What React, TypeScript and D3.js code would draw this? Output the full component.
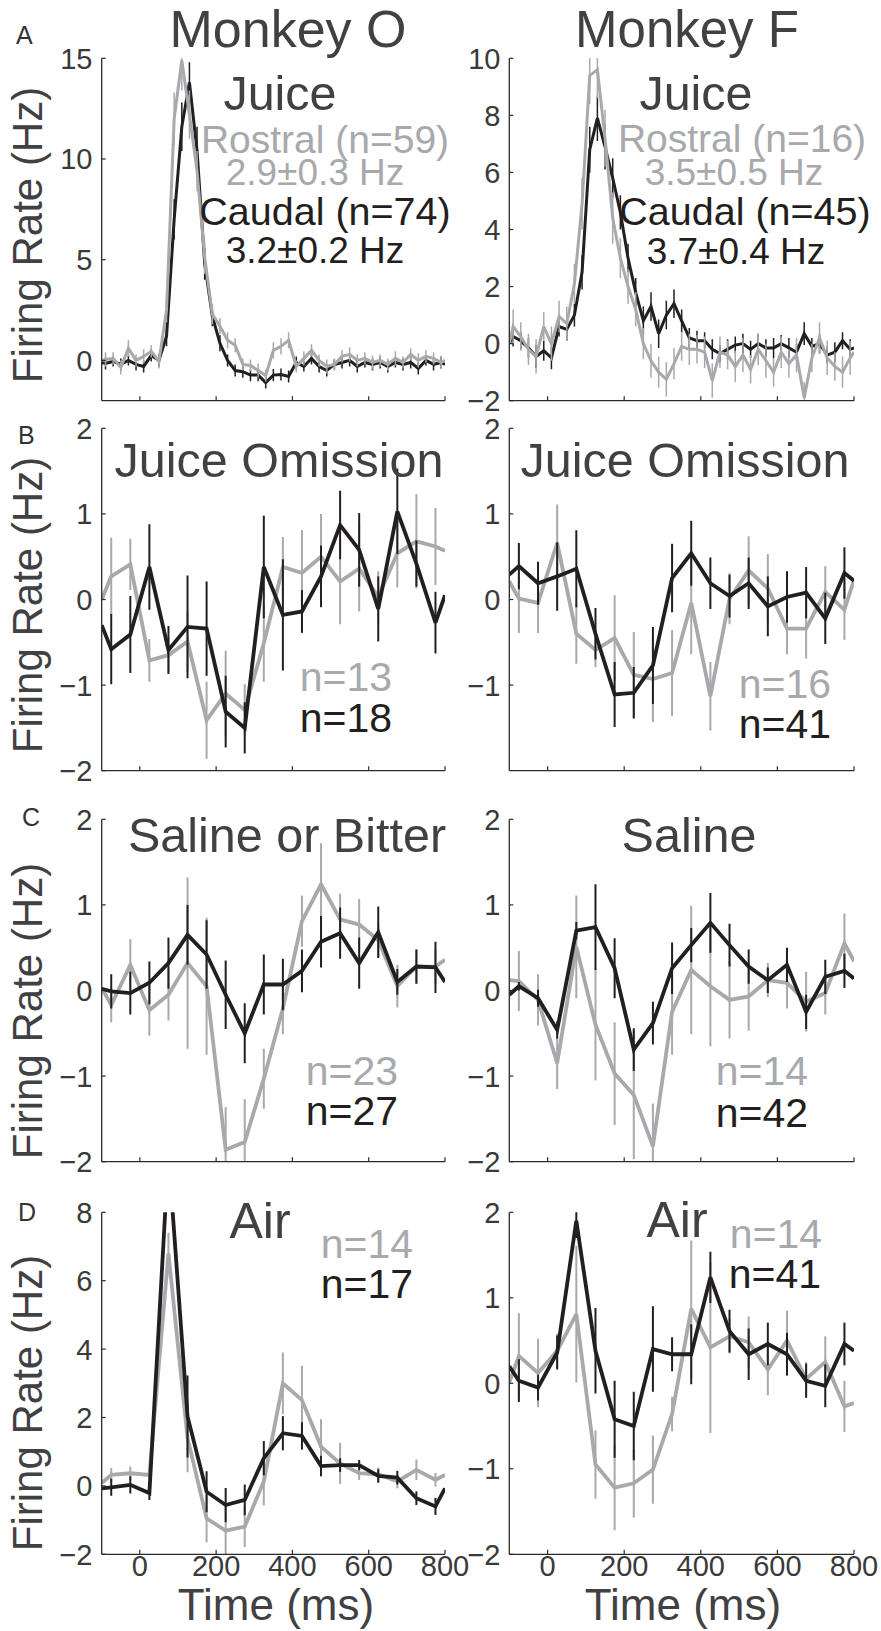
import React from 'react';
import * as d3 from 'd3';

// ---- time bases (ms) ----
const T_FINE = [-100, -90, -70, -50, -30, -10, 10, 30, 50, 70, 90, 110, 130, 150, 170, 190, 210, 230, 250, 270, 290, 310, 330, 350, 370, 390, 410, 430, 450, 470, 490, 510, 530, 550, 570, 590, 610, 630, 650, 670, 690, 710, 730, 750, 770, 790, 800];
const T_COARSE = [-100, -75, -25, 25, 75, 125, 175, 225, 275, 325, 375, 425, 475, 525, 575, 625, 675, 725, 775, 800];
const X_DOMAIN = [-100, 800];
const X_TICKS = [0, 200, 400, 600, 800];

// ---- A: Juice ----
const juiceO_caudal = [-0.1, -0.15, -0.05, -0.2, 0.0, -0.2, -0.3, 0.25, 0.0, 1.2, 7.0, 11.6, 13.8, 10.4, 4.8, 2.2, 0.85, 0.0, -0.5, -0.56, -0.73, -0.73, -1.1, -0.73, -0.7, -0.8, -0.1, -0.3, 0.1, -0.3, -0.5, -0.2, -0.1, 0.0, -0.3, -0.1, -0.2, -0.1, -0.3, -0.1, -0.2, -0.1, -0.4, 0.0, -0.2, -0.1, -0.2];
const juiceO_caudalErr = [null, 0.3, 0.25, 0.3, 0.25, 0.3, 0.3, 0.3, 0.3, 0.5, 1.0, 1.2, 1.0, 1.2, 0.8, 0.5, 0.4, 0.3, 0.3, 0.3, 0.3, 0.3, 0.3, 0.3, 0.3, 0.3, 0.3, 0.25, 0.3, 0.3, 0.3, 0.25, 0.3, 0.3, 0.3, 0.25, 0.3, 0.3, 0.3, 0.25, 0.3, 0.3, 0.3, 0.25, 0.3, 0.3, null];
const juiceO_rostral = [0.0, 0.05, 0.1, -0.35, 0.6, 0.0, 0.2, 0.45, -0.05, 2.5, 12.0, 14.9, 12.2, 9.4, 5.1, 2.3, 1.7, 1.0, 0.75, -0.2, -0.25, -0.5, -0.75, 0.5, 0.7, 1.0, -0.3, 0.1, 0.5, 0.0, -0.3, -0.2, 0.2, 0.3, 0.0, 0.1, -0.1, 0.0, -0.2, 0.1, -0.1, 0.3, 0.0, 0.2, 0.1, -0.1, 0.0];
const juiceO_rostralErr = [null, 0.35, 0.3, 0.35, 0.4, 0.3, 0.35, 0.3, 0.35, 0.6, 1.3, 1.5, 1.2, 1.0, 0.8, 0.5, 0.4, 0.4, 0.35, 0.3, 0.3, 0.35, 0.3, 0.4, 0.4, 0.4, 0.3, 0.35, 0.3, 0.3, 0.35, 0.3, 0.3, 0.35, 0.3, 0.3, 0.35, 0.3, 0.3, 0.35, 0.3, 0.3, 0.35, 0.3, 0.3, 0.3, null];

const juiceF_caudal = [0.0, 0.25, 0.1, -0.15, -0.45, -0.25, -0.5, 0.6, 0.5, 1.0, 2.5, 6.8, 7.9, 6.9, 5.8, 4.6, 3.0, 1.8, 0.8, 1.3, 0.35, 1.0, 1.4, 0.8, 0.2, 0.1, 0.1, -0.2, -0.35, -0.2, -0.05, 0.0, -0.2, 0.0, -0.15, -0.15, 0.0, -0.15, -0.3, 0.35, -0.1, 0.0, -0.4, -0.3, 0.1, -0.2, -0.15];
const juiceF_caudalErr = [null, 0.35, 0.3, 0.35, 0.4, 0.35, 0.4, 0.35, 0.4, 0.4, 0.6, 0.8, 0.8, 0.8, 0.7, 0.6, 0.5, 0.5, 0.5, 0.5, 0.5, 0.5, 0.5, 0.4, 0.35, 0.35, 0.3, 0.35, 0.3, 0.35, 0.3, 0.35, 0.3, 0.35, 0.3, 0.35, 0.3, 0.35, 0.3, 0.4, 0.3, 0.35, 0.3, 0.35, 0.3, 0.35, null];
const juiceF_rostral = [0.0, 0.6, 0.25, -0.2, -0.45, 0.6, 0.0, 0.95, 0.7, 2.1, 4.9, 9.4, 9.6, 7.2, 4.4, 3.0, 2.0, 1.2, 0.0, -0.6, -1.0, -1.25, -0.7, -0.1, -0.2, -0.2, -0.3, -1.3, -0.3, -0.4, -0.8, -0.4, -0.9, -0.2, -0.6, -1.0, -0.3, -0.7, -0.4, -1.9, -0.5, 0.2, -0.5, -0.8, -1.0, -0.5, -0.3];
const juiceF_rostralErr = [null, 0.6, 0.5, 0.55, 0.6, 0.5, 0.6, 0.55, 0.6, 0.7, 0.9, 1.0, 1.0, 1.0, 0.9, 0.7, 0.6, 0.6, 0.55, 0.6, 0.55, 0.6, 0.55, 0.5, 0.55, 0.5, 0.55, 0.6, 0.55, 0.5, 0.55, 0.6, 0.5, 0.55, 0.6, 0.5, 0.55, 0.5, 0.6, 0.55, 0.5, 0.55, 0.6, 0.5, 0.55, 0.6, null];

// ---- B: Juice omission ----
const omitO_caudal = [-0.30, -0.58, -0.41, 0.38, -0.59, -0.32, -0.34, -1.31, -1.50, 0.38, -0.18, -0.14, 0.27, 0.87, 0.58, -0.11, 1.03, 0.42, -0.27, 0.05];
const omitO_caudalErr = [null, 0.41, 0.45, 0.5, 0.28, 0.6, 0.55, 0.42, 0.3, 0.6, 0.65, 0.25, 0.36, 0.4, 0.43, 0.38, 0.5, 0.27, 0.36, null];
const omitO_rostral = [0.0, 0.27, 0.41, -0.71, -0.65, -0.49, -1.41, -1.10, -1.29, -0.51, 0.38, 0.31, 0.50, 0.21, 0.36, 0.03, 0.54, 0.68, 0.62, 0.57];
const omitO_rostralErr = [null, 0.45, 0.3, 0.25, 0.2, 0.35, 0.45, 0.5, 0.3, 0.45, 0.35, 0.5, 0.5, 0.5, 0.5, 0.3, 0.4, 0.55, 0.45, null];

const omitF_caudal = [0.29, 0.39, 0.19, 0.27, 0.36, -0.40, -1.11, -1.09, -0.77, 0.25, 0.54, 0.19, 0.04, 0.19, -0.08, 0.03, 0.08, -0.22, 0.31, 0.22];
const omitF_caudalErr = [null, 0.27, 0.25, 0.4, 0.45, 0.3, 0.38, 0.3, 0.45, 0.4, 0.38, 0.3, 0.25, 0.3, 0.35, 0.3, 0.3, 0.3, 0.3, null];
const omitF_rostral = [0.21, 0.01, -0.04, 0.66, -0.40, -0.59, -0.45, -0.88, -0.93, -0.86, -0.04, -1.13, 0.01, 0.34, 0.13, -0.34, -0.34, 0.09, -0.12, 0.23];
const omitF_rostralErr = [null, 0.4, 0.35, 0.45, 0.35, 0.2, 0.5, 0.5, 0.5, 0.5, 0.6, 0.4, 0.3, 0.4, 0.4, 0.3, 0.35, 0.3, 0.35, null];

// ---- C: Saline / bitter ----
const salineO_caudal = [0.02, -0.01, -0.03, 0.09, 0.32, 0.65, 0.42, -0.05, -0.50, 0.07, 0.07, 0.23, 0.57, 0.67, 0.32, 0.68, 0.10, 0.28, 0.27, 0.10];
const salineO_caudalErr = [null, 0.2, 0.25, 0.25, 0.3, 0.35, 0.4, 0.4, 0.35, 0.35, 0.3, 0.25, 0.3, 0.3, 0.3, 0.3, 0.15, 0.2, 0.3, null];
const salineO_rostral = [0.03, -0.17, 0.30, -0.23, -0.05, 0.32, 0.05, -1.86, -1.77, -1.03, -0.21, 0.81, 1.24, 0.83, 0.77, 0.59, 0.05, 0.28, 0.28, 0.36];
const salineO_rostralErr = [null, 0.2, 0.3, 0.3, 0.3, 1.0, 0.8, 0.5, 0.5, 0.35, 0.3, 0.3, 0.48, 0.3, 0.3, 0.2, 0.25, 0.2, 0.2, null];

const salineF_caudal = [-0.05, 0.05, -0.09, -0.46, 0.70, 0.74, 0.26, -0.69, -0.38, 0.26, 0.53, 0.79, 0.53, 0.28, 0.12, 0.30, -0.25, 0.16, 0.23, 0.14];
const salineF_caudalErr = [null, 0.05, 0.1, 0.1, 0.1, 0.5, 0.35, 0.25, 0.25, 0.3, 0.2, 0.35, 0.25, 0.2, 0.15, 0.2, 0.2, 0.2, 0.2, null];
const salineF_rostral = [0.12, 0.11, -0.11, -0.85, 0.51, -0.40, -0.97, -1.22, -1.82, -0.25, 0.24, 0.05, -0.11, -0.07, 0.12, 0.09, -0.13, -0.03, 0.55, 0.34];
const salineF_rostralErr = [null, 0.35, 0.3, 0.3, 0.6, 0.65, 0.6, 0.75, 0.5, 0.5, 0.75, 0.7, 0.45, 0.4, 0.2, 0.3, 0.35, 0.25, 0.35, null];

// ---- D: Air puff ----
const airO_caudal = [-0.07, -0.04, 0.03, -0.21, 9.7, 2.03, -0.17, -0.56, -0.41, 0.81, 1.54, 1.46, 0.58, 0.61, 0.61, 0.29, 0.24, -0.36, -0.60, -0.07];
const airO_caudalErr = [null, 0.25, 0.25, 0.2, 1.0, 1.2, 0.6, 0.5, 0.45, 0.5, 0.5, 0.4, 0.3, 0.2, 0.15, 0.2, 0.2, 0.2, 0.25, null];
const airO_rostral = [0.08, 0.32, 0.37, 0.32, 6.8, 1.4, -0.95, -1.31, -1.19, 0.13, 3.00, 2.51, 1.15, 0.66, 0.37, 0.34, 0.13, 0.47, 0.18, 0.32];
const airO_rostralErr = [null, 0.2, 0.2, 0.1, 0.6, 1.0, 0.7, 0.7, 0.6, 0.7, 0.9, 1.0, 0.8, 0.6, 0.2, 0.2, 0.2, 0.3, 0.2, null];

const airF_caudal = [0.20, 0.03, -0.05, 0.36, 1.90, 0.38, -0.42, -0.50, 0.40, 0.34, 0.34, 1.24, 0.61, 0.34, 0.46, 0.34, 0.03, -0.03, 0.46, 0.38];
const airF_caudalErr = [null, 0.25, 0.15, 0.2, 0.2, 0.5, 0.45, 0.4, 0.5, 0.2, 0.35, 0.3, 0.25, 0.3, 0.25, 0.25, 0.2, 0.25, 0.25, null];
const airF_rostral = [0.01, 0.32, 0.12, 0.38, 0.81, -0.95, -1.22, -1.17, -1.01, -0.36, 0.87, 0.42, 0.55, 0.48, 0.16, 0.50, 0.05, 0.25, -0.27, -0.23];
const airF_rostralErr = [null, 0.5, 0.4, 0.2, 0.8, 0.4, 0.5, 0.4, 0.4, 0.2, 0.8, 1.0, 0.2, 0.3, 0.3, 0.35, 0.2, 0.3, 0.3, null];

// ---- tick labels ----
const TICKS_A_O = [0, 5, 10, 15];
const TICKS_A_F = [-2, 0, 2, 4, 6, 8, 10];
const TICKS_UNIT = [-2, -1, 0, 1, 2];
const TICKS_UNIT_NO_MIN = [-1, 0, 1, 2];
const TICKS_AIR_O = [-2, 0, 2, 4, 6, 8];

// ---- styling ----
const FONT = '"Liberation Sans", Arial, Helvetica, sans-serif';
const CAUDAL = '#231f20';
const ROSTRAL = '#a7a9ac';
const INK = '#414042';
const AXIS = '#2b2b2b';
const TICK_FONT = 29;

const COLS = [
  { x0: 101.7, x1: 445, tickLabelX: 92.5 },
  { x0: 509.3, x1: 854, tickLabelX: 500.5 },
];
const ROWS = [
  { top: 58.3, bottom: 400.7, letter: 'A', letterX: 16, letterY: 44, yLabelY: 235 },
  { top: 428.3, bottom: 770.7, letter: 'B', letterX: 18, letterY: 444, yLabelY: 605 },
  { top: 819.3, bottom: 1161.7, letter: 'C', letterX: 22, letterY: 826, yLabelY: 1011 },
  { top: 1212.3, bottom: 1554.3, letter: 'D', letterX: 18, letterY: 1221, yLabelY: 1403 },
];

type Note = { text: string; x: number; y: number; size: number; color: string };
type Series = { v: number[]; err: (number | null)[]; color: string };
type PanelDef = {
  id: string; row: number; col: number; t: number[];
  yDomain: [number, number]; yTicks: number[];
  caudal: Series; rostral: Series; rostralOnTop: boolean;
  lineW: number; barW: number; notes: Note[];
};

const H1 = 48.5;
const LEG = 39;
const N = 41;

const panels: PanelDef[] = [
  {
    id: 'aO', row: 0, col: 0, t: T_FINE, yDomain: [-2, 15], yTicks: TICKS_A_O,
    caudal: { v: juiceO_caudal, err: juiceO_caudalErr, color: CAUDAL },
    rostral: { v: juiceO_rostral, err: juiceO_rostralErr, color: ROSTRAL },
    rostralOnTop: true, lineW: 3, barW: 1.5,
    notes: [
      { text: 'Juice', x: 280, y: 110, size: H1, color: INK },
      { text: 'Rostral (n=59)', x: 325, y: 153, size: LEG, color: ROSTRAL },
      { text: '2.9±0.3 Hz', x: 315, y: 185, size: 37, color: ROSTRAL },
      { text: 'Caudal (n=74)', x: 325, y: 225, size: 39.5, color: CAUDAL },
      { text: '3.2±0.2 Hz', x: 315, y: 263, size: 37, color: CAUDAL },
    ],
  },
  {
    id: 'aF', row: 0, col: 1, t: T_FINE, yDomain: [-2, 10], yTicks: TICKS_A_F,
    caudal: { v: juiceF_caudal, err: juiceF_caudalErr, color: CAUDAL },
    rostral: { v: juiceF_rostral, err: juiceF_rostralErr, color: ROSTRAL },
    rostralOnTop: true, lineW: 3, barW: 1.5,
    notes: [
      { text: 'Juice', x: 696, y: 110, size: H1, color: INK },
      { text: 'Rostral (n=16)', x: 742, y: 152, size: LEG, color: ROSTRAL },
      { text: '3.5±0.5 Hz', x: 734, y: 185, size: 37, color: ROSTRAL },
      { text: 'Caudal (n=45)', x: 745, y: 225, size: 39.5, color: CAUDAL },
      { text: '3.7±0.4 Hz', x: 736, y: 264, size: 37, color: CAUDAL },
    ],
  },
  {
    id: 'bO', row: 1, col: 0, t: T_COARSE, yDomain: [-2, 2], yTicks: TICKS_UNIT,
    caudal: { v: omitO_caudal, err: omitO_caudalErr, color: CAUDAL },
    rostral: { v: omitO_rostral, err: omitO_rostralErr, color: ROSTRAL },
    rostralOnTop: false, lineW: 3.8, barW: 2,
    notes: [
      { text: 'Juice Omission', x: 279, y: 477, size: H1, color: INK },
      { text: 'n=13', x: 346, y: 691, size: N, color: ROSTRAL },
      { text: 'n=18', x: 346, y: 732, size: N, color: CAUDAL },
    ],
  },
  {
    id: 'bF', row: 1, col: 1, t: T_COARSE, yDomain: [-2, 2], yTicks: TICKS_UNIT_NO_MIN,
    caudal: { v: omitF_caudal, err: omitF_caudalErr, color: CAUDAL },
    rostral: { v: omitF_rostral, err: omitF_rostralErr, color: ROSTRAL },
    rostralOnTop: false, lineW: 3.8, barW: 2,
    notes: [
      { text: 'Juice Omission', x: 685, y: 477, size: H1, color: INK },
      { text: 'n=16', x: 785, y: 698, size: N, color: ROSTRAL },
      { text: 'n=41', x: 785, y: 738, size: N, color: CAUDAL },
    ],
  },
  {
    id: 'cO', row: 2, col: 0, t: T_COARSE, yDomain: [-2, 2], yTicks: TICKS_UNIT,
    caudal: { v: salineO_caudal, err: salineO_caudalErr, color: CAUDAL },
    rostral: { v: salineO_rostral, err: salineO_rostralErr, color: ROSTRAL },
    rostralOnTop: false, lineW: 3.8, barW: 2,
    notes: [
      { text: 'Saline or Bitter', x: 287, y: 852, size: H1, color: INK },
      { text: 'n=23', x: 352, y: 1085, size: N, color: ROSTRAL },
      { text: 'n=27', x: 352, y: 1125, size: N, color: CAUDAL },
    ],
  },
  {
    id: 'cF', row: 2, col: 1, t: T_COARSE, yDomain: [-2, 2], yTicks: TICKS_UNIT,
    caudal: { v: salineF_caudal, err: salineF_caudalErr, color: CAUDAL },
    rostral: { v: salineF_rostral, err: salineF_rostralErr, color: ROSTRAL },
    rostralOnTop: false, lineW: 3.8, barW: 2,
    notes: [
      { text: 'Saline', x: 689, y: 852, size: H1, color: INK },
      { text: 'n=14', x: 762, y: 1085, size: N, color: ROSTRAL },
      { text: 'n=42', x: 762, y: 1127, size: N, color: CAUDAL },
    ],
  },
  {
    id: 'dO', row: 3, col: 0, t: T_COARSE, yDomain: [-2, 8], yTicks: TICKS_AIR_O,
    caudal: { v: airO_caudal, err: airO_caudalErr, color: CAUDAL },
    rostral: { v: airO_rostral, err: airO_rostralErr, color: ROSTRAL },
    rostralOnTop: false, lineW: 3.8, barW: 2,
    notes: [
      { text: 'Air', x: 260, y: 1238, size: 50, color: INK },
      { text: 'n=14', x: 367, y: 1258, size: N, color: ROSTRAL },
      { text: 'n=17', x: 367, y: 1298, size: N, color: CAUDAL },
    ],
  },
  {
    id: 'dF', row: 3, col: 1, t: T_COARSE, yDomain: [-2, 2], yTicks: TICKS_UNIT,
    caudal: { v: airF_caudal, err: airF_caudalErr, color: CAUDAL },
    rostral: { v: airF_rostral, err: airF_rostralErr, color: ROSTRAL },
    rostralOnTop: false, lineW: 3.8, barW: 2,
    notes: [
      { text: 'Air', x: 677, y: 1237, size: 50, color: INK },
      { text: 'n=14', x: 776, y: 1248, size: N, color: ROSTRAL },
      { text: 'n=41', x: 775, y: 1288, size: N, color: CAUDAL },
    ],
  },
];

const MONKEYS = [
  { text: 'Monkey O', x: 288, y: 47, size: 52 },
  { text: 'Monkey F', x: 687, y: 47, size: 51 },
];
const TIME_LABEL_X = [276, 683];

function Panel({ p }: { p: PanelDef }) {
  const col = COLS[p.col];
  const row = ROWS[p.row];
  const x = d3.scaleLinear().domain(X_DOMAIN).range([col.x0, col.x1]);
  const y = d3.scaleLinear().domain(p.yDomain).range([row.bottom, row.top]);
  const line = d3
    .line<[number, number]>()
    .x((d) => x(d[0]))
    .y((d) => y(d[1]));
  const clipId = `clip-${p.id}`;

  const drawSeries = (s: Series, key: string) => (
    <g key={key}>
      {s.err.map((e, i) =>
        e == null ? null : (
          <line
            key={i}
            x1={x(p.t[i])}
            x2={x(p.t[i])}
            y1={y(s.v[i] - e)}
            y2={y(s.v[i] + e)}
            stroke={s.color}
            strokeWidth={p.barW}
          />
        )
      )}
      <path
        d={line(p.t.map((t, i) => [t, s.v[i]] as [number, number])) || ''}
        fill="none"
        stroke={s.color}
        strokeWidth={p.lineW}
        strokeLinejoin="miter"
        strokeMiterlimit={3}
      />
    </g>
  );

  const order = p.rostralOnTop
    ? [drawSeries(p.caudal, 'c'), drawSeries(p.rostral, 'r')]
    : [drawSeries(p.rostral, 'r'), drawSeries(p.caudal, 'c')];

  return (
    <g>
      <defs>
        <clipPath id={clipId}>
          <rect x={col.x0} y={row.top} width={col.x1 - col.x0} height={row.bottom - row.top} />
        </clipPath>
      </defs>
      <g clipPath={`url(#${clipId})`}>{order}</g>

      {/* axes */}
      <line x1={col.x0} x2={col.x0} y1={row.top} y2={row.bottom} stroke={AXIS} strokeWidth={1.3} />
      <line x1={col.x0} x2={col.x1} y1={row.bottom} y2={row.bottom} stroke={AXIS} strokeWidth={1.3} />
      {X_TICKS.map((t) => (
        <line key={t} x1={x(t)} x2={x(t)} y1={row.bottom} y2={row.bottom - 4.5} stroke={AXIS} strokeWidth={1.2} />
      ))}
      {p.yTicks.map((v) => (
        <g key={v}>
          <line x1={col.x0} x2={col.x0 + 4} y1={y(v)} y2={y(v)} stroke={AXIS} strokeWidth={1.2} />
          <text
            x={col.tickLabelX}
            y={y(v)}
            dy="0.36em"
            textAnchor="end"
            fontSize={TICK_FONT}
            fill="#3a3a3a"
          >
            {v < 0 ? `\u2212${Math.abs(v)}` : `${v}`}
          </text>
        </g>
      ))}
      {p.row === 3 &&
        X_TICKS.map((t) => (
          <text key={t} x={x(t)} y={row.bottom + 22} textAnchor="middle" fontSize={TICK_FONT} fill="#3a3a3a">
            {t}
          </text>
        ))}

      {p.notes.map((n, i) => (
        <text key={i} x={n.x} y={n.y} textAnchor="middle" fontSize={n.size} fill={n.color}>
          {n.text}
        </text>
      ))}
    </g>
  );
}

export default function App() {
  return (
    <>
      <style>{'body{margin:0}'}</style>
      <svg
        width={881}
        height={1631}
        viewBox="0 0 881 1631"
        style={{ display: 'block', background: '#fff' }}
        fontFamily={FONT}
      >
        <rect x={0} y={0} width={881} height={1631} fill="#fff" />
        {MONKEYS.map((m) => (
          <text key={m.text} x={m.x} y={m.y} textAnchor="middle" fontSize={m.size} fill={INK}>
            {m.text}
          </text>
        ))}
        {ROWS.map((r) => (
          <g key={r.letter}>
            <text x={r.letterX} y={r.letterY} fontSize={25} fill="#333">
              {r.letter}
            </text>
            <text
              transform={`translate(42,${r.yLabelY}) rotate(-90)`}
              textAnchor="middle"
              fontSize={42}
              fill={INK}
            >
              Firing Rate (Hz)
            </text>
          </g>
        ))}
        {panels.map((p) => (
          <Panel key={p.id} p={p} />
        ))}
        {TIME_LABEL_X.map((cx, i) => (
          <text key={i} x={cx} y={1620} textAnchor="middle" fontSize={44} fill={INK}>
            Time (ms)
          </text>
        ))}
      </svg>
    </>
  );
}
